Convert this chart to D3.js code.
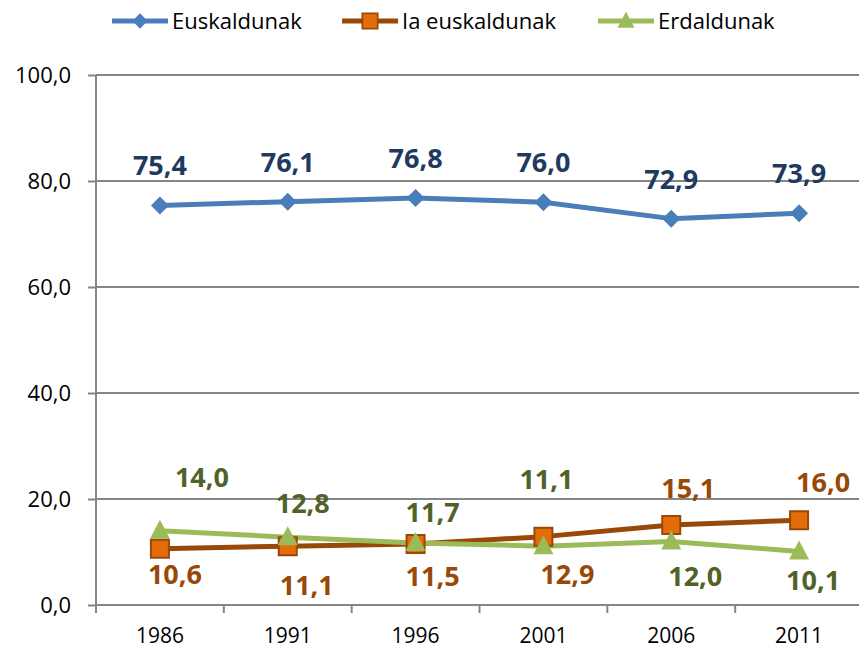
<!DOCTYPE html>
<html>
<head>
<meta charset="utf-8">
<script src="https://cdn.jsdelivr.net/npm/d3@7"></script>
<style>
  html, body { margin: 0; padding: 0; background: #fff; }
  svg { display: block; }
</style>
</head>
<body>
<svg id="chart" width="859" height="649"></svg>
<script>
// ---- data ----
const years = ["1986", "1991", "1996", "2001", "2006", "2011"];
const euskaldunak = [75.4, 76.1, 76.8, 76.0, 72.9, 73.9];
const iaEuskaldunak = [10.6, 11.1, 11.5, 12.9, 15.1, 16.0];
const erdaldunak = [14.0, 12.8, 11.7, 11.1, 12.0, 10.1];
const seriesNames = ["Euskaldunak", "Ia euskaldunak", "Erdaldunak"];
const yTicks = [0, 20, 40, 60, 80, 100];

// ---- label placement (pixels, relative to point) ----
const blueLabelDx = [0, 0, 0, 0, 0, 0];
const blueLabelDy = [-30, -30, -30, -30, -30, -30];
const brownLabelDx = [15, 19, 17, 24, 17, 24];
const brownLabelDy = [35, 49, 42, 47, -27, -28];
const greenLabelDx = [42, 15, 17, 3, 24, 14];
const greenLabelDy = [-44, -24, -21, -57, 45, 39];

const svg = d3.select("#chart");
const mLeft = 96, mRight = 863, mTop = 75, mBottom = 605;

const x = d3.scaleBand().domain(years).range([mLeft, mRight]).padding(0);
const y = d3.scaleLinear().domain([0, 100]).range([mBottom, mTop]);
const fmt = v => d3.format(".1f")(v).replace(".", ",");

const axisColor = "#868686";
const tickFont = "'Open Sans', sans-serif";

// gridlines
svg.append("g").selectAll("line").data(yTicks.filter(t => t > 0)).join("line")
  .attr("x1", mLeft).attr("x2", mRight)
  .attr("y1", d => y(d)).attr("y2", d => y(d))
  .attr("stroke", axisColor).attr("stroke-width", 2);

// y axis
const yAxis = d3.axisLeft(y).tickValues(yTicks).tickSize(8).tickFormat(fmt);
const gy = svg.append("g").attr("transform", `translate(${mLeft},0)`).call(yAxis);
gy.select(".domain").attr("stroke", axisColor).attr("stroke-width", 2).attr("d", `M0,${mTop}V${mBottom}`);
gy.selectAll(".tick line").attr("stroke", axisColor).attr("stroke-width", 2);
gy.selectAll(".tick text").attr("font-family", tickFont).attr("font-size", 22)
  .attr("fill", "#000").attr("x", -25).attr("dy", "0.35em");

// x axis
const xAxis = d3.axisBottom(x).tickSize(0).tickFormat(d => d);
const gx = svg.append("g").attr("transform", `translate(0,${mBottom})`).call(xAxis);
gx.select(".domain").attr("stroke", axisColor).attr("stroke-width", 2).attr("d", `M${mLeft},0H${mRight}`);
gx.selectAll(".tick text").attr("font-family", tickFont).attr("font-size", 21)
  .attr("fill", "#000").attr("y", 38).attr("dy", "0");
// boundary ticks
const bounds = years.map(d => x(d)).concat([mRight]);
svg.append("g").selectAll("line").data(bounds).join("line")
  .attr("x1", d => d).attr("x2", d => d)
  .attr("y1", mBottom).attr("y2", mBottom + 8)
  .attr("stroke", axisColor).attr("stroke-width", 2);

const cx = d => x(d) + x.bandwidth() / 2;

const series = [
  { name: seriesNames[0], values: euskaldunak, line: "#4A7EBB", fill: "#4A7EBB", stroke: "none", label: "#1F3A5F", shape: "diamond", dx: blueLabelDx, dy: blueLabelDy },
  { name: seriesNames[1], values: iaEuskaldunak, line: "#984807", fill: "#E46C0A", stroke: "#984807", label: "#984807", shape: "square", dx: brownLabelDx, dy: brownLabelDy },
  { name: seriesNames[2], values: erdaldunak, line: "#9BBB59", fill: "#9BBB59", stroke: "none", label: "#4F6228", shape: "triangle", dx: greenLabelDx, dy: greenLabelDy }
];

function markerPath(shape) {
  if (shape === "diamond") return "M0,-9L9,0L0,9L-9,0Z";
  if (shape === "square") return "M-9,-9H9V9H-9Z";
  return "M0,-11L10,8H-10Z";
}

const line = d3.line().x((d, i) => cx(years[i])).y(d => y(d));

series.forEach(s => {
  svg.append("g").append("path").datum(s.values).attr("d", line)
    .attr("fill", "none").attr("stroke", s.line).attr("stroke-width", 5)
    .attr("stroke-linejoin", "round");
});
series.forEach(s => {
  svg.append("g").selectAll("path").data(s.values).join("path")
    .attr("d", markerPath(s.shape))
    .attr("transform", (d, i) => `translate(${cx(years[i])},${y(d)})`)
    .attr("fill", s.fill).attr("stroke", s.stroke).attr("stroke-width", 2);
});
series.forEach(s => {
  svg.append("g").selectAll("text").data(s.values).join("text")
    .attr("x", (d, i) => cx(years[i]) + s.dx[i])
    .attr("y", (d, i) => y(d) + s.dy[i])
    .attr("text-anchor", "middle")
    .attr("font-family", tickFont).attr("font-weight", 700).attr("font-size", 27)
    .attr("fill", s.label)
    .text(d => fmt(d));
});

// legend
const legendItems = [
  { x: 112, s: series[0] },
  { x: 342, s: series[1] },
  { x: 598, s: series[2] }
];
const lg = svg.append("g");
legendItems.forEach(it => {
  const ly = 21;
  lg.append("line").attr("x1", it.x).attr("x2", it.x + 56).attr("y1", ly).attr("y2", ly)
    .attr("stroke", it.s.line).attr("stroke-width", 5);
  lg.append("path").attr("d", markerPath(it.s.shape))
    .attr("transform", `translate(${it.x + 28},${ly}) scale(0.85)`)
    .attr("fill", it.s.fill).attr("stroke", it.s.stroke).attr("stroke-width", 2);
  lg.append("text").attr("x", it.x + 60).attr("y", ly).attr("dy", "0.35em")
    .attr("font-family", tickFont).attr("font-size", 22).attr("fill", "#000")
    .text(it.s.name);
});
</script>
</body>
</html>
